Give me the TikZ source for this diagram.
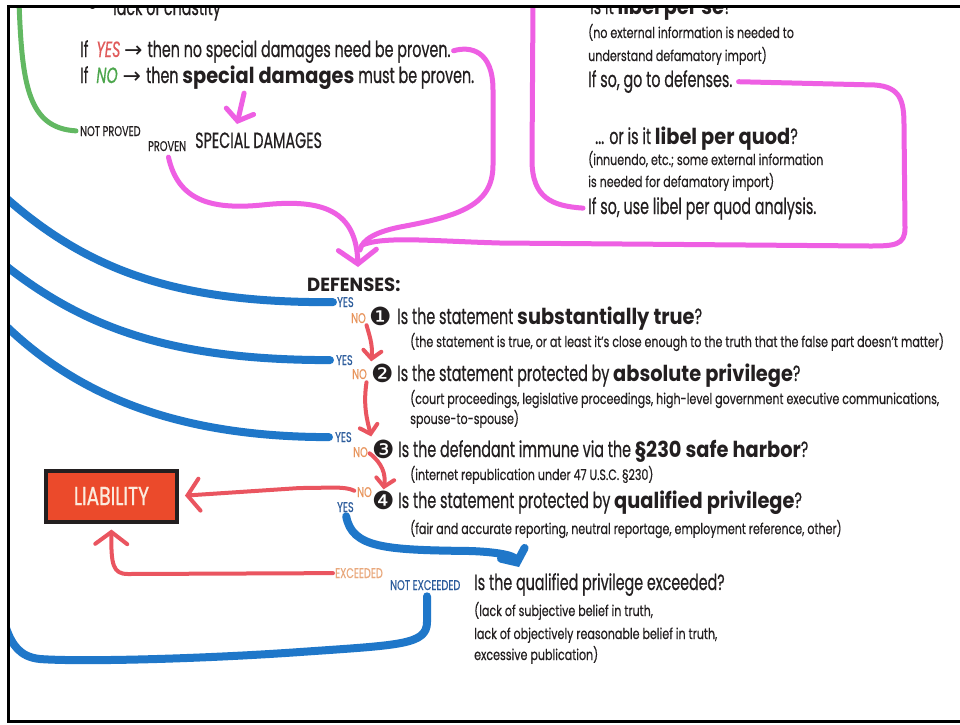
\documentclass[tikz,border=0pt]{standalone}
\usepackage{fontspec}
\setmainfont{Poppins}
\newfontfamily\mainf{Poppins}[FakeStretch=0.65,FakeBold=0.5]
\newfontfamily\parf{Poppins}[FakeStretch=0.74,FakeBold=0.4]
\newfontfamily\boldf{Poppins}[FakeStretch=0.88]
\newfontfamily\deff{Poppins}[FakeStretch=0.95]
\newfontfamily\labf{Poppins}[FakeStretch=0.7,FakeBold=0.3]
\newfontfamily\liabfont{Poppins}[FakeStretch=0.72,FakeBold=0.8]
\newfontfamily\symf{DejaVu Sans}
\usetikzlibrary{arrows.meta,calc}
\definecolor{bluc}{HTML}{1F77C9}
\definecolor{magc}{HTML}{EE5FE3}
\definecolor{rdc}{HTML}{EA5560}
\definecolor{grnc}{HTML}{62B862}
\definecolor{txtc}{HTML}{231F20}
\definecolor{yesc}{HTML}{2C5C9C}
\definecolor{noc}{HTML}{E8945C}
\definecolor{excc}{HTML}{E9A87C}
\definecolor{liabf}{HTML}{EB4A2B}
\definecolor{liabt}{HTML}{FBEBDD}
\definecolor{redt}{HTML}{E05A5A}
\definecolor{grnt}{HTML}{4CA64C}
\newcommand\hv[1]{{\boldf\bfseries #1}}
\begin{document}
\begin{tikzpicture}[x=1pt,y=-1pt,
  maintxt/.style={anchor=base west,inner sep=0pt,text=txtc,font=\mainf\fontsize{22}{22}\selectfont},
  partxt/.style={anchor=base west,inner sep=0pt,text=txtc,font=\parf\fontsize{15}{15}\selectfont},
  labtxt/.style={anchor=base west,inner sep=0pt,font=\labf\fontsize{14}{14}\selectfont},
  yestxt/.style={labtxt,text=yesc},
  notxt/.style={labtxt,text=noc},
  numtxt/.style={anchor=base west,inner sep=0pt,text=txtc,font=\symf\fontsize{25}{25}\selectfont},
  bluline/.style={draw=bluc,line width=8pt,line cap=round,line join=round},
  magline/.style={draw=magc,line width=5pt,line cap=round,line join=round},
  redline/.style={draw=rdc,line width=4pt,line cap=round,line join=round},
  grnline/.style={draw=grnc,line width=5pt,line cap=round,line join=round},
  smallhead/.style={-{Straight Barb[length=8pt,width=18pt,line cap=round]}},
  bighead/.style={-{Straight Barb[length=12pt,width=32pt,line cap=round]}},
  maghead/.style={-{Straight Barb[length=14pt,width=38pt,line cap=round]}},
  sdhead/.style={-{Straight Barb[length=10pt,width=28pt,line cap=round]}},
  bluhead/.style={-{Straight Barb[length=10pt,width=26pt,line cap=round]}}
]
\useasboundingbox (0,0) rectangle (960,724);
\fill[white] (0,0) rectangle (960,724);
\begin{scope}
\clip (8,7) rectangle (960,721);

% ---------- top left texts
\node[maintxt] (bul) at (86,14) {{\symf •}};
\node[maintxt] (chast) at (113,15) {lack of chastity};
\node[maintxt] (ifyes) at (80,57) {If\hspace{8pt}{\color{redt}\itshape YES}\,{\symf →}\hspace{5pt}then no special damages need be proven.};
\node[maintxt] (ifno) at (80,83) {If\hspace{8pt}{\color{grnt}\itshape NO}\hspace{5pt}{\symf →}\hspace{5pt}then \hv{special damages} must be proven.};
\node[labtxt,text=txtc] (notproved) at (80,136) {NOT PROVED};
\node[labtxt,text=txtc] (proven) at (148,151) {PROVEN};
\node[maintxt] (specdam) at (195,148) {SPECIAL DAMAGES};

% ---------- top right texts
\node[maintxt] (perse) at (590,14) {Is it \hv{libel per se}?};
\node[partxt] (p1a) at (588,38) {(no external information is needed to};
\node[partxt] (p1b) at (588,61) {understand defamatory import)};
\node[maintxt] (gotodef) at (588,87) {If so, go to defenses.};
\node[maintxt] (perquod) at (595,144) {... or is it \hv{libel per quod}?};
\node[partxt] (p2a) at (588,165) {(innuendo, etc.; some external information};
\node[partxt] (p2b) at (588,187) {is needed for defamatory import)};
\node[maintxt] (useq) at (588,214) {If so, use libel per quod analysis.};

% ---------- defenses
\node[maintxt,font=\deff\bfseries\fontsize{19}{19}\selectfont] (defenses) at (307,291) {DEFENSES:};
\node[yestxt] (yes1) at (337,307) {YES};
\node[notxt] (no1) at (351,323) {NO};
\node[numtxt] (n1) at (369,325) {❶};
\node[maintxt] (q1) at (397,324) {Is the statement \hv{substantially true}?};
\node[partxt] (q1p) at (410,347) {(the statement is true, or at least it’s close enough to the truth that the false part doesn’t matter)};
\node[yestxt] (yes2) at (336,365) {YES};
\node[notxt] (no2) at (352,379) {NO};
\node[numtxt] (n2) at (371,382) {❷};
\node[maintxt] (q2) at (397,381) {Is the statement protected by \hv{absolute privilege}?};
\node[partxt] (q2p) at (410,404) {(court proceedings, legislative proceedings, high-level government executive communications,};
\node[partxt] (q2p2) at (410,424) {spouse-to-spouse)};
\node[yestxt] (yes3) at (335,442) {YES};
\node[notxt] (no3) at (353,457) {NO};
\node[numtxt] (n3) at (372,458) {❸};
\node[maintxt] (q3) at (398,457) {Is the defendant immune via the \hv{§230 safe harbor}?};
\node[partxt] (q3p) at (410,480) {(internet republication under 47 U.S.C. §230)};
\node[notxt] (no4) at (357,497) {NO};
\node[yestxt] (yes4) at (337,512) {YES};
\node[numtxt] (n4) at (372,509) {❹};
\node[maintxt] (q4) at (398,508) {Is the statement protected by \hv{qualified privilege}?};
\node[partxt] (q4p) at (410,534) {(fair and accurate reporting, neutral reportage, employment reference, other)};
\node[labtxt,text=excc] (exc) at (335,578) {EXCEEDED};
\node[yestxt] (notexc) at (390,590) {NOT EXCEEDED};
\node[maintxt] (q5) at (474,590) {Is the qualified privilege exceeded?};
\node[partxt] (q5a) at (474,616) {(lack of subjective belief in truth,};
\node[partxt] (q5b) at (474,639) {lack of objectively reasonable belief in truth,};
\node[partxt] (q5c) at (474,660) {excessive publication)};

\node[draw=txtc,line width=4pt,fill=liabf,minimum width=131pt,minimum height=51pt,inner sep=0pt,
      text=liabt,font=\liabfont\fontsize{26}{26}\selectfont] (liab) at (111.5,496) {LIABILITY};

% ---------- coordinates for free ends
\coordinate (g0) at (19,2);
\coordinate (b1s) at (6,198);
\coordinate (b2s) at (6,266);
\coordinate (b3s) at (6,326);
\coordinate (b5e) at (6,628);
\coordinate (m5s) at (533,2);
\coordinate (defTip) at (358,267);
\coordinate (sdTip) at (237,124);
\coordinate (bluTip) at (519,567);

% ---------- green
\draw[grnline,shorten >=4pt] (g0) .. controls (22,85) and (28,128) .. (notproved.west);

% ---------- magenta
\draw[magline,shorten <=3pt] (ifyes.east) .. controls (470,46) and (493,50) .. (493,90)
   -- (493,165) .. controls (493,205) and (460,216) .. (400,227) .. controls (375,232) and (362,240) .. (360,250);
\draw[magline,shorten <=6pt] (gotodef.east) -- (875,85) .. controls (900,87) and (904,100) .. (904,125)
   -- (905,228) .. controls (905,245) and (895,246) .. (870,246) -- (500,243) .. controls (430,241) and (385,236) .. (362,245);
\draw[magline,maghead,shorten <=6pt] (proven.south) .. controls (178,200) and (210,210) .. (262,205)
   .. controls (325,198) and (356,212) .. (defTip);
\draw[magline,sdhead,shorten <=4pt] (ifno.south -| 245,0) -- (sdTip);
\draw[magline,shorten >=5pt] (m5s) -- (532,160) .. controls (532,198) and (552,206) .. (useq.west);

% ---------- blue
\draw[bluline,shorten >=4pt] (b1s) .. controls (90,272) and (180,303) .. (yes1.west);
\draw[bluline,shorten >=6pt] (b2s) .. controls (90,332) and (180,360) .. (yes2.west);
\draw[bluline,shorten >=6pt] (b3s) .. controls (80,397) and (180,437) .. (yes3.west);
\draw[bluline,bluhead,shorten <=4pt] (yes4.south) .. controls (352,548) and (385,550) .. (470,551)
   .. controls (500,552) and (514,556) .. (bluTip);
\draw[bluline,shorten <=6pt] (notexc.south -| 427,0) -- (427,622) .. controls (427,645) and (400,645) .. (300,652)
   .. controls (200,659) and (80,662) .. (40,659) .. controls (20,657) and (12,645) .. (b5e);

% ---------- red
\draw[redline,smallhead,shorten <=2pt,shorten >=2pt] (no1.south east) .. controls (369,334) and (373,345) .. (n2.north west);
\draw[redline,smallhead,shorten <=3pt,shorten >=3pt] (no2.south east) .. controls (363,405) and (367,420) .. (n3.north west);
\draw[redline,smallhead,shorten <=2pt,shorten >=1pt] (no3.east) .. controls (382,463) and (386,474) .. (n4.north);
\draw[redline,bighead,shorten <=3pt,shorten >=6pt] (no4.west) .. controls (345,486) and (330,488) .. (300,488) -- (liab.east);
\draw[redline,bighead,shorten <=2pt,shorten >=6pt] (exc.west) -- (128,574) .. controls (113,574) and (111,565) .. (liab.south);
\end{scope}

% ---------- frame
\draw[black,line width=3pt] (962,6) -- (8,6) -- (8,721) -- (962,721);
\end{tikzpicture}
\end{document}
